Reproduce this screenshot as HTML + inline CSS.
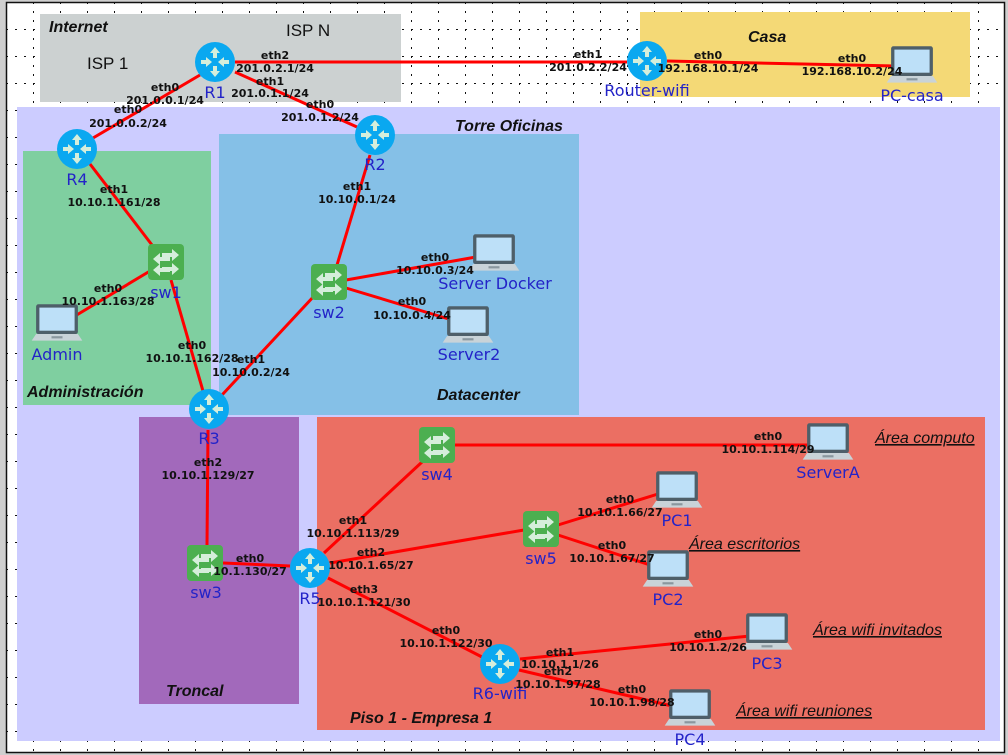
<!DOCTYPE html>
<html><head><meta charset="utf-8"><style>
html,body{margin:0;padding:0;background:#cfcfcf;}
svg{display:block;font-family:"Liberation Sans",sans-serif;}
.l{font-size:11px;font-weight:bold;fill:#111;text-anchor:middle;font-family:"DejaVu Sans","Liberation Sans",sans-serif;}
.n{font-size:16px;fill:#2323c8;text-anchor:middle;font-family:"DejaVu Sans","Liberation Sans",sans-serif;}
.t{font-size:16px;font-weight:bold;font-style:italic;fill:#111;}
.u{font-size:16px;font-style:italic;fill:#111;text-decoration:underline;}
.k{stroke:#ff0000;stroke-width:3;fill:none;}
</style></head><body>
<svg width="1008" height="755" viewBox="0 0 1008 755" xmlns="http://www.w3.org/2000/svg">
<defs>
<pattern id="g" x="6" y="2" width="27" height="27" patternUnits="userSpaceOnUse">
<path d="M0 0.5H27" stroke="#111" stroke-width="1" stroke-dasharray="2 7"/>
<path d="M0.5 0V27" stroke="#111" stroke-width="1" stroke-dasharray="2 7"/>
</pattern>
<g id="rt"><circle r="20" fill="#0aa8f0"/>
<g fill="#d5eedb"><path d="M0 -15 l-5 6 h3 v5 h4 v-5 h3z"/><path d="M0 15 l-5 -6 h3 v-5 h4 v5 h3z"/><path d="M-3 0 l-6 -5 v3 h-5 v4 h5 v3z"/><path d="M3 0 l6 -5 v3 h5 v4 h-5 v3z"/></g></g>
<g id="sw"><rect x="-18" y="-18" width="36" height="36" rx="4" fill="#4caf50"/>
<g fill="#d5eedb"><path d="M13 -7 l-7 -6 v4 h-10 v4 h10 v4z"/><path d="M-13 -4 l7 -6 v4 h10 v4 h-10 v4z" transform="translate(0,1)"/><path d="M13 6 l-7 -6 v4 h-10 v4 h10 v4z" transform="translate(0,1)"/><path d="M-13 8 l7 -6 v4 h10 v4 h-10 v4z"/></g></g>
<g id="lp"><g transform="scale(1.1)"><rect x="-19" y="-17" width="38" height="27" rx="2" fill="#4e5f69"/><rect x="-16" y="-14" width="32" height="21" fill="#bde0f8"/><path d="M-19 10 h38 l4 6 h-46z" fill="#c9d3d8"/><rect x="-5" y="12" width="10" height="2" fill="#8a979e"/></g></g>
</defs>
<rect x="7" y="3" width="997" height="749" fill="#fff"/>
<rect x="7" y="3" width="997" height="749" fill="url(#g)"/>
<rect x="6.5" y="2.5" width="998" height="750" fill="none" stroke="#111" stroke-width="1.5"/>
<rect x="40" y="14" width="361" height="88" fill="#ccd1d1"/>
<rect x="640" y="12" width="330" height="85" fill="#f4d976"/>
<rect x="17" y="107" width="983" height="634" fill="#ccccff"/>
<rect x="23" y="151" width="188" height="254" fill="#7fcfa0"/>
<rect x="219" y="134" width="360" height="281" fill="#85c0e7"/>
<rect x="139" y="417" width="160" height="287" fill="#a269bb"/>
<rect x="317" y="417" width="668" height="313" fill="#eb6f63"/>
<text class="t" x="49" y="32">Internet</text>
<text x="286" y="36" font-size="17" fill="#111">ISP N</text>
<text x="87" y="69" font-size="17" fill="#111">ISP 1</text>
<text class="t" x="748" y="42">Casa</text>
<text class="t" x="455" y="131">Torre Oficinas</text>
<text class="t" x="27" y="397">Administración</text>
<text class="t" x="437" y="400">Datacenter</text>
<text class="t" x="166" y="696">Troncal</text>
<text class="t" x="350" y="723">Piso 1 - Empresa 1</text>
<text class="u" x="875" y="443">Área computo</text>
<text class="u" x="689" y="549">Área escritorios</text>
<text class="u" x="813" y="635">Área wifi invitados</text>
<text class="u" x="736" y="716">Área wifi reuniones</text>
<g class="k">
<path d="M235 62 L627 62"/><path d="M667 61 L893 66"/>
<path d="M200 75 L93 138"/><path d="M235 72 L357 127"/>
<path d="M90 164 L152 245"/><path d="M370 155 L337 265"/>
<path d="M346 280 L476 257"/><path d="M346 288 L452 320"/>
<path d="M150 271 L75 316"/><path d="M171 280 L203 391"/>
<path d="M315 295 L222 395"/><path d="M208 430 L207 545"/>
<path d="M223 563 L290 566"/><path d="M324 553 L422 462"/>
<path d="M330 563 L524 530"/><path d="M328 578 L482 657"/>
<path d="M455 445 L810 445"/><path d="M558 525 L658 494"/>
<path d="M558 535 L650 565"/><path d="M520 659 L750 636"/>
<path d="M519 670 L672 706"/>
</g>
<use href="#rt" x="215" y="62"/><use href="#rt" x="375" y="135"/><use href="#rt" x="77" y="149"/>
<use href="#rt" x="209" y="409"/><use href="#rt" x="310" y="568"/><use href="#rt" x="500" y="664"/><use href="#rt" x="647" y="61"/>
<use href="#sw" x="166" y="262"/><use href="#sw" x="329" y="282"/><use href="#sw" x="205" y="563"/><use href="#sw" x="437" y="445"/><use href="#sw" x="541" y="529"/>
<use href="#lp" x="912" y="65"/><use href="#lp" x="57" y="323"/><use href="#lp" x="494" y="253"/><use href="#lp" x="468" y="325"/>
<use href="#lp" x="828" y="442"/><use href="#lp" x="677" y="490"/><use href="#lp" x="668" y="569"/><use href="#lp" x="767" y="632"/><use href="#lp" x="690" y="708"/>
<g class="n">
<text x="215" y="98">R1</text><text x="375" y="170">R2</text><text x="77" y="185">R4</text><text x="209" y="444">R3</text>
<text x="310" y="604">R5</text><text x="500" y="699">R6-wifi</text><text x="647" y="96">Router-wifi</text>
<text x="166" y="298">sw1</text><text x="329" y="318">sw2</text><text x="206" y="598">sw3</text><text x="437" y="480">sw4</text><text x="541" y="564">sw5</text>
<text x="912" y="101">PC-casa</text><text x="57" y="360">Admin</text><text x="495" y="289">Server Docker</text><text x="469" y="360">Server2</text>
<text x="828" y="478">ServerA</text><text x="677" y="526">PC1</text><text x="668" y="605">PC2</text><text x="767" y="669">PC3</text><text x="690" y="745">PC4</text>
</g>
<g class="l">
<text x="275" y="59">eth2</text><text x="275" y="72">201.0.2.1/24</text>
<text x="270" y="85">eth1</text><text x="270" y="97">201.0.1.1/24</text>
<text x="165" y="91">eth0</text><text x="165" y="104">201.0.0.1/24</text>
<text x="128" y="113">eth0</text><text x="128" y="127">201.0.0.2/24</text>
<text x="320" y="108">eth0</text><text x="320" y="121">201.0.1.2/24</text>
<text x="588" y="58">eth1</text><text x="588" y="71">201.0.2.2/24</text>
<text x="708" y="59">eth0</text><text x="708" y="72">192.168.10.1/24</text>
<text x="852" y="62">eth0</text><text x="852" y="75">192.168.10.2/24</text>
<text x="114" y="193">eth1</text><text x="114" y="206">10.10.1.161/28</text>
<text x="357" y="190">eth1</text><text x="357" y="203">10.10.0.1/24</text>
<text x="108" y="292">eth0</text><text x="108" y="305">10.10.1.163/28</text>
<text x="192" y="349">eth0</text><text x="192" y="362">10.10.1.162/28</text>
<text x="251" y="363">eth1</text><text x="251" y="376">10.10.0.2/24</text>
<text x="435" y="261">eth0</text><text x="435" y="274">10.10.0.3/24</text>
<text x="412" y="305">eth0</text><text x="412" y="319">10.10.0.4/24</text>
<text x="208" y="466">eth2</text><text x="208" y="479">10.10.1.129/27</text>
<text x="250" y="562">eth0</text><text x="250" y="575">10.1.130/27</text>
<text x="353" y="524">eth1</text><text x="353" y="537">10.10.1.113/29</text>
<text x="371" y="556">eth2</text><text x="371" y="569">10.10.1.65/27</text>
<text x="364" y="593">eth3</text><text x="364" y="606">10.10.1.121/30</text>
<text x="446" y="634">eth0</text><text x="446" y="647">10.10.1.122/30</text>
<text x="768" y="440">eth0</text><text x="768" y="453">10.10.1.114/29</text>
<text x="620" y="503">eth0</text><text x="620" y="516">10.10.1.66/27</text>
<text x="612" y="549">eth0</text><text x="612" y="562">10.10.1.67/27</text>
<text x="560" y="656">eth1</text><text x="560" y="668">10.10.1.1/26</text>
<text x="558" y="675">eth2</text><text x="558" y="688">10.10.1.97/28</text>
<text x="708" y="638">eth0</text><text x="708" y="651">10.10.1.2/26</text>
<text x="632" y="693">eth0</text><text x="632" y="706">10.10.1.98/28</text>
</g>
</svg>
</body></html>
